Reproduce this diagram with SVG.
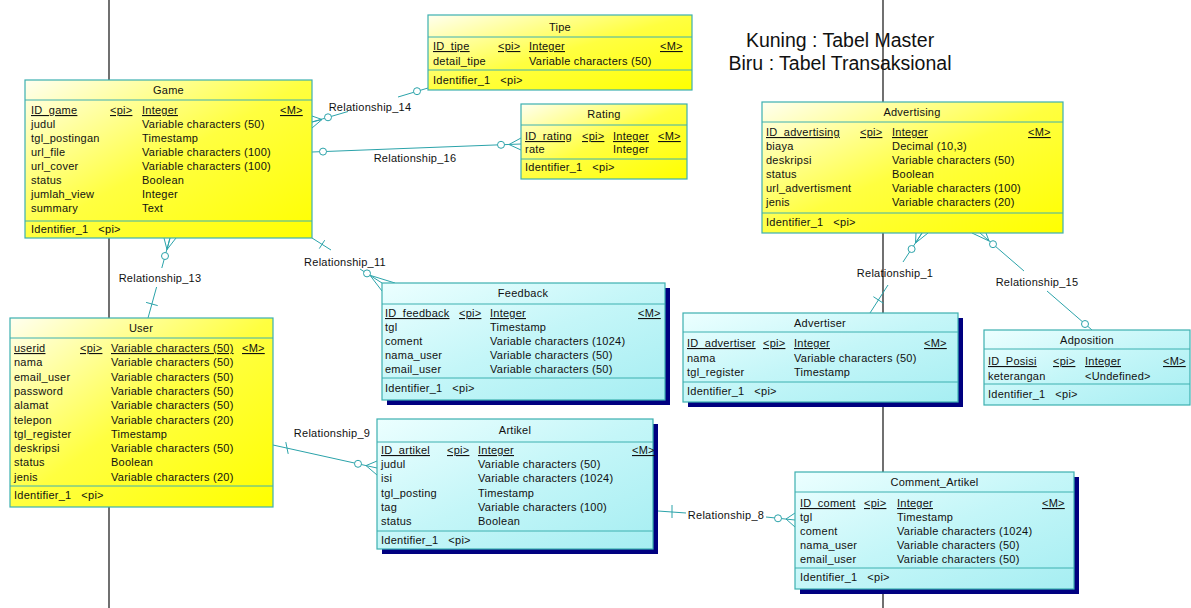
<svg xmlns="http://www.w3.org/2000/svg" width="1191" height="608" viewBox="0 0 1191 608">
<defs>
<linearGradient id="gy" x1="0" y1="0" x2="1" y2="1">
<stop offset="0" stop-color="#fffff0"/>
<stop offset="0.5" stop-color="#ffff40"/>
<stop offset="1" stop-color="#ffff00"/>
</linearGradient>
<linearGradient id="gc" x1="0" y1="0" x2="1" y2="1">
<stop offset="0" stop-color="#ecffff"/>
<stop offset="0.5" stop-color="#c4f6f8"/>
<stop offset="1" stop-color="#a6eef2"/>
</linearGradient>
<style>
.t{font-family:"Liberation Sans",Arial,sans-serif;font-size:11px;letter-spacing:0.25px;fill:#111}
.pk{text-decoration:underline}
.ti{text-anchor:middle}
.by{fill:url(#gy);stroke:#3cb0b0;stroke-width:1.2}
.bc{fill:url(#gc);stroke:#3cb0b0;stroke-width:1.2}
.sh{fill:#000080}
.dv{stroke:#3cb0b0;stroke-width:1}
.cn{stroke:#2ba3aa;fill:none;stroke-width:1}
.ci{fill:#fff;stroke:#2ba3aa;stroke-width:1}
.vl{stroke:#111;stroke-width:1.2}
.hd{font-family:"Liberation Sans",Arial,sans-serif;font-size:19.5px;fill:#111;text-anchor:middle}
</style>
</defs>
<rect width="1191" height="608" fill="#fff"/>
<g id="guides">
<line class="vl" x1="109" y1="0" x2="109" y2="608"/>
<line class="vl" x1="883" y1="0" x2="883" y2="608"/>
</g>
<g id="legend">
<text class="hd" x="840" y="47">Kuning : Tabel Master</text>
<text class="hd" x="840" y="70">Biru : Tabel Transaksional</text>
</g>
<g id="connectors">
<!-- Relationship_14 -->
<line class="cn" x1="312" y1="122" x2="348" y2="111.5"/>
<line class="cn" x1="398" y1="97" x2="428" y2="88"/>
<polyline class="cn" points="312,116 322,119.5 312,122"/>
<line class="cn" x1="312" y1="128" x2="322" y2="119.5"/>
<circle class="ci" cx="328" cy="117.3" r="3.5"/>
<circle class="ci" cx="417" cy="91.2" r="3.5"/>
<text class="t ti" x="370" y="111">Relationship_14</text>
<!-- Relationship_16 -->
<line class="cn" x1="312" y1="152" x2="521" y2="144"/>
<polyline class="cn" points="521,138 509,144.5 521,150"/>
<circle class="ci" cx="323" cy="151.6" r="3.5"/>
<circle class="ci" cx="501" cy="144.8" r="3.5"/>
<text class="t ti" x="415" y="162">Relationship_16</text>
<!-- Relationship_13 -->
<line class="cn" x1="170" y1="238" x2="161.8" y2="268"/>
<line class="cn" x1="156.6" y1="287" x2="148" y2="318"/>
<polyline class="cn" points="164,238 167,249.6 176,238"/>
<line class="cn" x1="167" y1="249.6" x2="170" y2="238"/>
<line class="cn" x1="146.1" y1="302.4" x2="157.7" y2="305.6"/>
<circle class="ci" cx="165" cy="256" r="3.5"/>
<text class="t ti" x="160" y="282">Relationship_13</text>
<!-- Relationship_11 -->
<line class="cn" x1="312" y1="238" x2="331" y2="250"/>
<line class="cn" x1="360" y1="269" x2="382" y2="283"/>
<line class="cn" x1="324.7" y1="240.2" x2="319.3" y2="248.6"/>
<polyline class="cn" points="395,283 370,275.3 382,291"/>
<circle class="ci" cx="367" cy="273.4" r="3.5"/>
<text class="t ti" x="345" y="266">Relationship_11</text>
<!-- Relationship_1 -->
<line class="cn" x1="922" y1="233" x2="903" y2="262"/>
<line class="cn" x1="888" y1="285" x2="870" y2="313"/>
<polyline class="cn" points="916,233 915.5,243 928,233"/>
<line class="cn" x1="915.5" y1="243" x2="922" y2="233"/>
<line class="cn" x1="873.4" y1="296.7" x2="883.5" y2="303.3"/>
<circle class="ci" cx="911.6" cy="249" r="3.5"/>
<text class="t ti" x="895" y="277">Relationship_1</text>
<!-- Relationship_15 -->
<line class="cn" x1="980" y1="233" x2="1024" y2="271"/>
<line class="cn" x1="1047" y1="291" x2="1092" y2="330"/>
<polyline class="cn" points="972,233 989,241 986,233"/>
<circle class="ci" cx="993" cy="244.2" r="3.5"/>
<circle class="ci" cx="1085" cy="324" r="3.5"/>
<text class="t ti" x="1037" y="286">Relationship_15</text>
<!-- Relationship_9 -->
<line class="cn" x1="273" y1="445" x2="377" y2="468"/>
<line class="cn" x1="285.8" y1="442.1" x2="288.2" y2="453.9"/>
<polyline class="cn" points="377,461 366,465.6 377,475"/>
<circle class="ci" cx="358" cy="463.8" r="3.5"/>
<text class="t ti" x="332" y="437">Relationship_9</text>
<!-- Relationship_8 -->
<line class="cn" x1="658" y1="511" x2="686" y2="513"/>
<line class="cn" x1="766" y1="517" x2="795" y2="520"/>
<line class="cn" x1="672" y1="505" x2="672" y2="518"/>
<polyline class="cn" points="795,513 786,519 795,527"/>
<circle class="ci" cx="778" cy="518.3" r="3.5"/>
<text class="t ti" x="726" y="519">Relationship_8</text>
</g>
<g id="Game">
<rect class="by" x="25" y="80" width="287" height="158"/>
<line class="dv" x1="25" y1="100" x2="312" y2="100"/>
<line class="dv" x1="25" y1="221" x2="312" y2="221"/>
<text class="t ti" x="168.5" y="94">Game</text>
<text class="t pk" x="31" y="114">ID_game</text><text class="t pk" x="110" y="114">&lt;pi&gt;</text><text class="t pk" x="142" y="114">Integer</text><text class="t pk" x="280" y="114">&lt;M&gt;</text>
<text class="t" x="31" y="128">judul</text><text class="t" x="142" y="128">Variable characters (50)</text>
<text class="t" x="31" y="142">tgl_postingan</text><text class="t" x="142" y="142">Timestamp</text>
<text class="t" x="31" y="156">url_file</text><text class="t" x="142" y="156">Variable characters (100)</text>
<text class="t" x="31" y="170">url_cover</text><text class="t" x="142" y="170">Variable characters (100)</text>
<text class="t" x="31" y="184">status</text><text class="t" x="142" y="184">Boolean</text>
<text class="t" x="31" y="198">jumlah_view</text><text class="t" x="142" y="198">Integer</text>
<text class="t" x="31" y="212">summary</text><text class="t" x="142" y="212">Text</text>
<text class="t" x="31" y="233">Identifier_1 &#160; &lt;pi&gt;</text>
</g>
<g id="Tipe">
<rect class="by" x="428" y="15" width="264" height="75"/>
<line class="dv" x1="428" y1="37" x2="692" y2="37"/>
<line class="dv" x1="428" y1="70" x2="692" y2="70"/>
<text class="t ti" x="560" y="31">Tipe</text>
<text class="t pk" x="433" y="50">ID_tipe</text><text class="t pk" x="498" y="50">&lt;pi&gt;</text><text class="t pk" x="529" y="50">Integer</text><text class="t pk" x="660" y="50">&lt;M&gt;</text>
<text class="t" x="433" y="65">detail_tipe</text><text class="t" x="529" y="65">Variable characters (50)</text>
<text class="t" x="433" y="84">Identifier_1 &#160; &lt;pi&gt;</text>
</g>
<g id="Rating">
<rect class="by" x="521" y="104" width="166" height="75"/>
<line class="dv" x1="521" y1="125" x2="687" y2="125"/>
<line class="dv" x1="521" y1="159" x2="687" y2="159"/>
<text class="t ti" x="604" y="118">Rating</text>
<text class="t pk" x="525" y="140">ID_rating</text><text class="t pk" x="582" y="140">&lt;pi&gt;</text><text class="t pk" x="613" y="140">Integer</text><text class="t pk" x="658" y="140">&lt;M&gt;</text>
<text class="t" x="525" y="153">rate</text><text class="t" x="613" y="153">Integer</text>
<text class="t" x="525" y="171">Identifier_1 &#160; &lt;pi&gt;</text>
</g>
<g id="Advertising">
<rect class="by" x="762" y="102" width="301" height="131"/>
<line class="dv" x1="762" y1="122" x2="1063" y2="122"/>
<line class="dv" x1="762" y1="213" x2="1063" y2="213"/>
<text class="t ti" x="912" y="116">Advertising</text>
<text class="t pk" x="766" y="136">ID_advertising</text><text class="t pk" x="860" y="136">&lt;pi&gt;</text><text class="t pk" x="892" y="136">Integer</text><text class="t pk" x="1028" y="136">&lt;M&gt;</text>
<text class="t" x="766" y="150">biaya</text><text class="t" x="892" y="150">Decimal (10,3)</text>
<text class="t" x="766" y="164">deskripsi</text><text class="t" x="892" y="164">Variable characters (50)</text>
<text class="t" x="766" y="178">status</text><text class="t" x="892" y="178">Boolean</text>
<text class="t" x="766" y="192">url_advertisment</text><text class="t" x="892" y="192">Variable characters (100)</text>
<text class="t" x="766" y="206">jenis</text><text class="t" x="892" y="206">Variable characters (20)</text>
<text class="t" x="766" y="226">Identifier_1 &#160; &lt;pi&gt;</text>
</g>
<g id="User">
<rect class="by" x="10" y="318" width="263" height="189"/>
<line class="dv" x1="10" y1="338" x2="273" y2="338"/>
<line class="dv" x1="10" y1="486" x2="273" y2="486"/>
<text class="t ti" x="141" y="332">User</text>
<text class="t pk" x="14" y="352">userid</text><text class="t pk" x="80" y="352">&lt;pi&gt;</text><text class="t pk" x="111" y="352">Variable characters (50)</text><text class="t pk" x="242" y="352">&lt;M&gt;</text>
<text class="t" x="14" y="366.3">nama</text><text class="t" x="111" y="366.3">Variable characters (50)</text>
<text class="t" x="14" y="380.6">email_user</text><text class="t" x="111" y="380.6">Variable characters (50)</text>
<text class="t" x="14" y="394.9">password</text><text class="t" x="111" y="394.9">Variable characters (50)</text>
<text class="t" x="14" y="409.2">alamat</text><text class="t" x="111" y="409.2">Variable characters (50)</text>
<text class="t" x="14" y="423.5">telepon</text><text class="t" x="111" y="423.5">Variable characters (20)</text>
<text class="t" x="14" y="437.8">tgl_register</text><text class="t" x="111" y="437.8">Timestamp</text>
<text class="t" x="14" y="452.1">deskripsi</text><text class="t" x="111" y="452.1">Variable characters (50)</text>
<text class="t" x="14" y="466.4">status</text><text class="t" x="111" y="466.4">Boolean</text>
<text class="t" x="14" y="480.7">jenis</text><text class="t" x="111" y="480.7">Variable characters (20)</text>
<text class="t" x="14" y="499">Identifier_1 &#160; &lt;pi&gt;</text>
</g>
<g id="Feedback">
<rect class="sh" x="387" y="288" width="283" height="117"/>
<rect class="bc" x="382" y="283" width="283" height="117"/>
<line class="dv" x1="382" y1="304" x2="665" y2="304"/>
<line class="dv" x1="382" y1="378" x2="665" y2="378"/>
<text class="t ti" x="523" y="297">Feedback</text>
<text class="t pk" x="385" y="317">ID_feedback</text><text class="t pk" x="459" y="317">&lt;pi&gt;</text><text class="t pk" x="490" y="317">Integer</text><text class="t pk" x="638" y="317">&lt;M&gt;</text>
<text class="t" x="385" y="331">tgl</text><text class="t" x="490" y="331">Timestamp</text>
<text class="t" x="385" y="345">coment</text><text class="t" x="490" y="345">Variable characters (1024)</text>
<text class="t" x="385" y="359">nama_user</text><text class="t" x="490" y="359">Variable characters (50)</text>
<text class="t" x="385" y="373">email_user</text><text class="t" x="490" y="373">Variable characters (50)</text>
<text class="t" x="385" y="392">Identifier_1 &#160; &lt;pi&gt;</text>
</g>
<g id="Advertiser">
<rect class="sh" x="688" y="318" width="275" height="89"/>
<rect class="bc" x="683" y="313" width="275" height="89"/>
<line class="dv" x1="683" y1="332" x2="958" y2="332"/>
<line class="dv" x1="683" y1="382" x2="958" y2="382"/>
<text class="t ti" x="820" y="327">Advertiser</text>
<text class="t pk" x="687" y="347">ID_advertiser</text><text class="t pk" x="763" y="347">&lt;pi&gt;</text><text class="t pk" x="794" y="347">Integer</text><text class="t pk" x="924" y="347">&lt;M&gt;</text>
<text class="t" x="687" y="362">nama</text><text class="t" x="794" y="362">Variable characters (50)</text>
<text class="t" x="687" y="376">tgl_register</text><text class="t" x="794" y="376">Timestamp</text>
<text class="t" x="687" y="395">Identifier_1 &#160; &lt;pi&gt;</text>
</g>
<g id="Adposition">
<rect class="bc" x="984" y="330" width="206" height="75"/>
<line class="dv" x1="984" y1="349" x2="1190" y2="349"/>
<line class="dv" x1="984" y1="384" x2="1190" y2="384"/>
<text class="t ti" x="1087" y="344">Adposition</text>
<text class="t pk" x="988" y="365">ID_Posisi</text><text class="t pk" x="1053" y="365">&lt;pi&gt;</text><text class="t pk" x="1085" y="365">Integer</text><text class="t pk" x="1163" y="365">&lt;M&gt;</text>
<text class="t" x="988" y="380">keterangan</text><text class="t" x="1085" y="380">&lt;Undefined&gt;</text>
<text class="t" x="988" y="398">Identifier_1 &#160; &lt;pi&gt;</text>
</g>
<g id="Artikel">
<rect class="sh" x="382" y="424" width="276" height="130"/>
<rect class="bc" x="377" y="419" width="276" height="130"/>
<line class="dv" x1="377" y1="442" x2="653" y2="442"/>
<line class="dv" x1="377" y1="531" x2="653" y2="531"/>
<text class="t ti" x="515" y="434">Artikel</text>
<text class="t pk" x="381" y="454">ID_artikel</text><text class="t pk" x="447" y="454">&lt;pi&gt;</text><text class="t pk" x="478" y="454">Integer</text><text class="t pk" x="632" y="454">&lt;M&gt;</text>
<text class="t" x="381" y="468.2">judul</text><text class="t" x="478" y="468.2">Variable characters (50)</text>
<text class="t" x="381" y="482.4">isi</text><text class="t" x="478" y="482.4">Variable characters (1024)</text>
<text class="t" x="381" y="496.6">tgl_posting</text><text class="t" x="478" y="496.6">Timestamp</text>
<text class="t" x="381" y="510.8">tag</text><text class="t" x="478" y="510.8">Variable characters (100)</text>
<text class="t" x="381" y="525">status</text><text class="t" x="478" y="525">Boolean</text>
<text class="t" x="381" y="544">Identifier_1 &#160; &lt;pi&gt;</text>
</g>
<g id="Comment_Artikel">
<rect class="sh" x="800" y="477" width="279" height="117"/>
<rect class="bc" x="795" y="472" width="279" height="117"/>
<line class="dv" x1="795" y1="492" x2="1074" y2="492"/>
<line class="dv" x1="795" y1="568" x2="1074" y2="568"/>
<text class="t ti" x="934.5" y="486">Comment_Artikel</text>
<text class="t pk" x="800" y="507">ID_coment</text><text class="t pk" x="864" y="507">&lt;pi&gt;</text><text class="t pk" x="897" y="507">Integer</text><text class="t pk" x="1042" y="507">&lt;M&gt;</text>
<text class="t" x="800" y="521">tgl</text><text class="t" x="897" y="521">Timestamp</text>
<text class="t" x="800" y="535">coment</text><text class="t" x="897" y="535">Variable characters (1024)</text>
<text class="t" x="800" y="549">nama_user</text><text class="t" x="897" y="549">Variable characters (50)</text>
<text class="t" x="800" y="563">email_user</text><text class="t" x="897" y="563">Variable characters (50)</text>
<text class="t" x="800" y="581">Identifier_1 &#160; &lt;pi&gt;</text>
</g>
</svg>
